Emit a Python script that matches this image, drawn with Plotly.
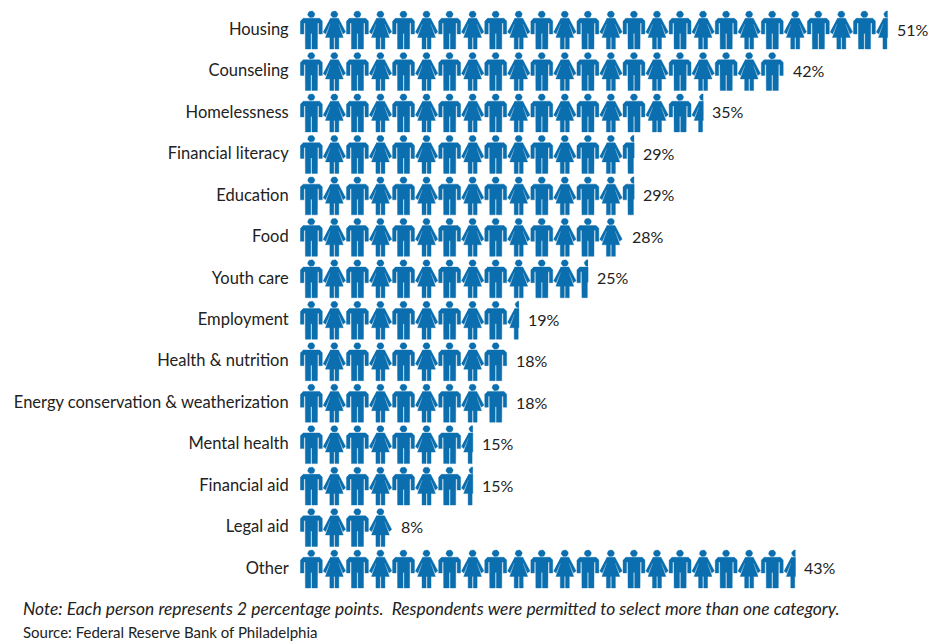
import numpy as np
import plotly.graph_objects as go

categories = ["Housing", "Counseling", "Homelessness", "Financial literacy", "Education", "Food",
              "Youth care", "Employment", "Health & nutrition", "Energy conservation & weatherization",
              "Mental health", "Financial aid", "Legal aid", "Other"]
values = [51, 42, 35, 29, 29, 28, 25, 19, 18, 18, 15, 15, 8, 43]
note_text = "Note: Each person represents 2 percentage points.\u00a0 Respondents were permitted to select more than one category."
source_text = "Source: Federal Reserve Bank of Philadelphia"

POINTS_PER_PERSON = 2
BLUE = "#0b6eae"
INK = "#222222"
FONT = "Lato"
WIDTH, HEIGHT = 941, 642
LEFT, BOTTOM = 299.6, 42
CELL_W, CELL_H = 23.06, 38.0
ROW_PITCH = 41.46
FIRST_ROW_CENTRE = 30.0

# Figure outlines on a 23 x 38 cell, y pointing down.
angles = np.linspace(0, 2 * np.pi, 25)[:-1]
head = list(zip(11.3 + 3.6 * np.cos(angles), 3.3 + 3.3 * np.sin(angles)))
man = [(3.0, 7.3), (19.6, 7.3), (22.3, 10), (22.3, 23), (18.9, 23), (18.9, 12), (17.6, 12), (17.4, 38),
       (12.0, 38), (12.0, 22.5), (10.8, 22.5), (10.8, 38), (5.4, 38), (5.2, 12), (3.9, 12), (3.9, 23),
       (0.4, 23), (0.4, 10)]
woman = [(7.2, 7.3), (15.4, 7.3), (22.6, 21), (20.0, 23), (15.8, 13.0), (15.4, 13.0), (20.2, 26.5), (15.8, 26.5),
         (15.8, 38), (12.0, 38), (12.0, 26.5), (10.8, 26.5), (10.8, 38), (6.8, 38), (6.8, 26.5), (2.4, 26.5),
         (7.2, 13.0), (6.8, 13.0), (2.6, 23), (0, 21)]


def clip_right(poly, limit):
    """Keep the part of a polygon left of x = limit."""
    out = []
    for i, (x0, y0) in enumerate(poly):
        x1, y1 = poly[(i + 1) % len(poly)]
        if x0 <= limit:
            out.append((x0, y0))
        if (x0 <= limit) != (x1 <= limit):
            out.append((limit, y0 + (limit - x0) / (x1 - x0) * (y1 - y0)))
    return out


def row_outline(value, row):
    """Outline of the run of alternating figures for one category."""
    persons = value / POINTS_PER_PERSON
    xs, ys = [], []
    for i in range(int(np.ceil(persons))):
        limit = (persons - i) * CELL_W
        for part in (head, man if i % 2 == 0 else woman):
            for px, py in clip_right(part, limit):
                xs.append((i + px / CELL_W) * POINTS_PER_PERSON)
                ys.append(row + (py - CELL_H / 2) / ROW_PITCH)
            xs.append(None)
            ys.append(None)
    return xs, ys


fig = go.Figure()
for row, (name, value) in enumerate(zip(categories, values)):
    xs, ys = row_outline(value, row)
    fig.add_trace(go.Scatter(x=xs, y=ys, mode="lines", fill="toself", fillcolor=BLUE,
                             line=dict(width=0.4, color=BLUE), name=name, hoverinfo="skip", showlegend=False))
    fig.add_annotation(x=value, y=row, text=f"{value}%", showarrow=False, xanchor="left", xshift=7, yshift=1,
                       font=dict(family=FONT, size=16, color=INK))

plot_w = WIDTH - LEFT
plot_h = HEIGHT - BOTTOM
fig.add_annotation(xref="paper", yref="paper", x=(20 - LEFT) / plot_w, y=(plot_h - 609) / plot_h,
                   text=f"<i>{note_text}</i>", showarrow=False, xanchor="left", yanchor="middle",
                   font=dict(family=FONT, size=17.4, color=INK))
fig.add_annotation(xref="paper", yref="paper", x=(20 - LEFT) / plot_w, y=(plot_h - 632) / plot_h,
                   text=source_text, showarrow=False, xanchor="left", yanchor="middle",
                   font=dict(family=FONT, size=15, color=INK))

fig.update_layout(
    width=WIDTH, height=HEIGHT, autosize=False, paper_bgcolor="white", plot_bgcolor="white",
    margin=dict(l=LEFT, r=0, t=0, b=BOTTOM),
    xaxis=dict(range=[0, plot_w / CELL_W * POINTS_PER_PERSON], visible=False, fixedrange=True),
    yaxis=dict(range=[(plot_h - FIRST_ROW_CENTRE) / ROW_PITCH, -FIRST_ROW_CENTRE / ROW_PITCH],
               tickmode="array", tickvals=list(range(len(categories))), ticktext=categories,
               showgrid=False, zeroline=False, showline=False, ticks="outside", ticklen=7,
               ticklabelshift=1, tickcolor="rgba(0,0,0,0)",
               tickfont=dict(family=FONT, size=16.5, color=INK), fixedrange=True),
)
fig.write_html("out.html", config=dict(displayModeBar=False))
